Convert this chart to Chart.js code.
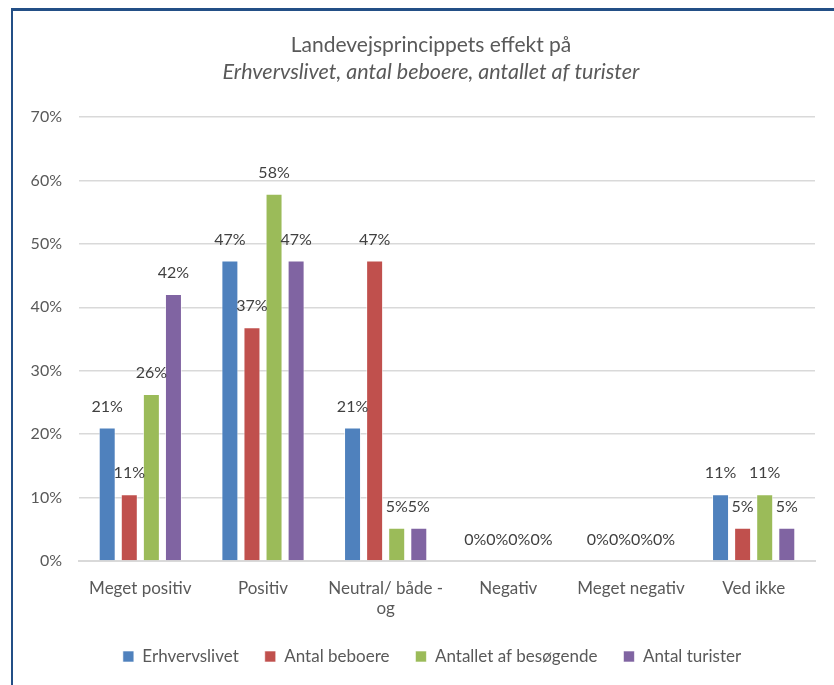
<!DOCTYPE html>
<html>
<head>
<meta charset="utf-8">
<script src="https://cdn.jsdelivr.net/npm/chart.js@4"></script>
<style>
  html, body { margin: 0; padding: 0; background: #fff; overflow: hidden; width: 834px; height: 685px; }
  #frame { position: absolute; left: 11px; top: 8px; width: 900px; height: 800px;
           border-top: 3px solid #234f86; border-left: 2px solid #234f86; }
  #wrap { position: absolute; left: 0; top: 0; width: 883px; height: 685px; }
</style>
</head>
<body>
<div id="frame"></div>
<div id="wrap"><canvas id="chart"></canvas></div>
<script>
const categories = ["Meget positiv", "Positiv", ["Neutral/ både -", "og"], "Negativ", "Meget negativ", "Ved ikke"];
const seriesNames = ["Erhvervslivet", "Antal beboere", "Antallet af besøgende", "Antal turister"];
const erhvervslivet = [21.05, 47.37, 21.05, 0, 0, 10.53];
const antalBeboere = [10.53, 36.84, 47.37, 0, 0, 5.26];
const antalBesoegende = [26.32, 57.89, 5.26, 0, 0, 10.53];
const antalTurister = [42.11, 47.37, 5.26, 0, 0, 5.26];
const colors = ["#4f81bd", "#c0504d", "#9bbb59", "#8064a2"];
const yTicks = [0, 10, 20, 30, 40, 50, 60, 70];

const font = "Lato, 'Open Sans', sans-serif";

const valueLabels = {
  id: "valueLabels",
  afterDatasetsDraw(c) {
    const ctx = c.ctx;
    ctx.save();
    ctx.font = "16px " + font;
    ctx.fillStyle = "#404040";
    ctx.textAlign = "center";
    ctx.textBaseline = "middle";
    c.data.datasets.forEach((ds, i) => {
      c.getDatasetMeta(i).data.forEach((bar, j) => {
        ctx.fillText(Math.round(ds.data[j]) + "%", bar.x, bar.y - 21);
      });
    });
    ctx.restore();
  }
};

const titleLines = {
  id: "titleLines",
  afterDraw(c) {
    const ctx = c.ctx;
    const cx = 431;
    ctx.save();
    ctx.fillStyle = "#595959";
    ctx.textAlign = "center";
    ctx.textBaseline = "middle";
    ctx.font = "21px " + font;
    ctx.fillText("Landevejsprincippets effekt på", cx, 45);
    ctx.font = "italic 21.5px " + font;
    ctx.fillText("Erhvervslivet, antal beboere, antallet af turister", cx, 72);
    ctx.restore();
  }
};

const datasets = [erhvervslivet, antalBeboere, antalBesoegende, antalTurister].map((d, i) => ({
  label: seriesNames[i],
  data: d,
  backgroundColor: colors[i],
  borderColor: "rgba(255,255,255,0.6)",
  borderWidth: 1,
  categoryPercentage: 0.72,
  barPercentage: 0.77
}));

new Chart(document.getElementById("chart"), {
  type: "bar",
  data: { labels: categories, datasets },
  plugins: [valueLabels, titleLines],
  options: {
    responsive: true,
    maintainAspectRatio: false,
    animation: false,
    layout: { padding: { left: 0, right: 19, top: 117, bottom: 10 } },
    plugins: {
      title: { display: false },
      tooltip: { enabled: false },
      legend: {
        position: "bottom",
        labels: {
          font: { family: font, size: 17 },
          color: "#595959",
          boxWidth: 11,
          boxHeight: 11,
          padding: 26
        }
      }
    },
    scales: {
      x: {
        grid: { display: false },
        border: { display: true, color: "#d9d9d9", width: 2 },
        ticks: { font: { family: font, size: 17 }, color: "#595959", padding: 9, maxRotation: 0, autoSkip: false },
        afterFit(s) { s.height = 61; }
      },
      y: {
        min: 0,
        max: 70,
        afterBuildTicks(s) { s.ticks = yTicks.map(v => ({ value: v })); },
        grid: { color: "#d9d9d9", lineWidth: 1.5, drawTicks: false },
        border: { display: false },
        ticks: { font: { family: font, size: 16 }, color: "#595959", padding: 17, callback: v => v + "%" },
        afterFit(s) { s.width = 79; }
      },
      spacer: {
        type: "linear",
        position: "right",
        grid: { display: false },
        border: { display: false },
        ticks: { display: false },
        afterFit(s) { s.width = 49; }
      }
    }
  }
});
</script>
</body>
</html>
